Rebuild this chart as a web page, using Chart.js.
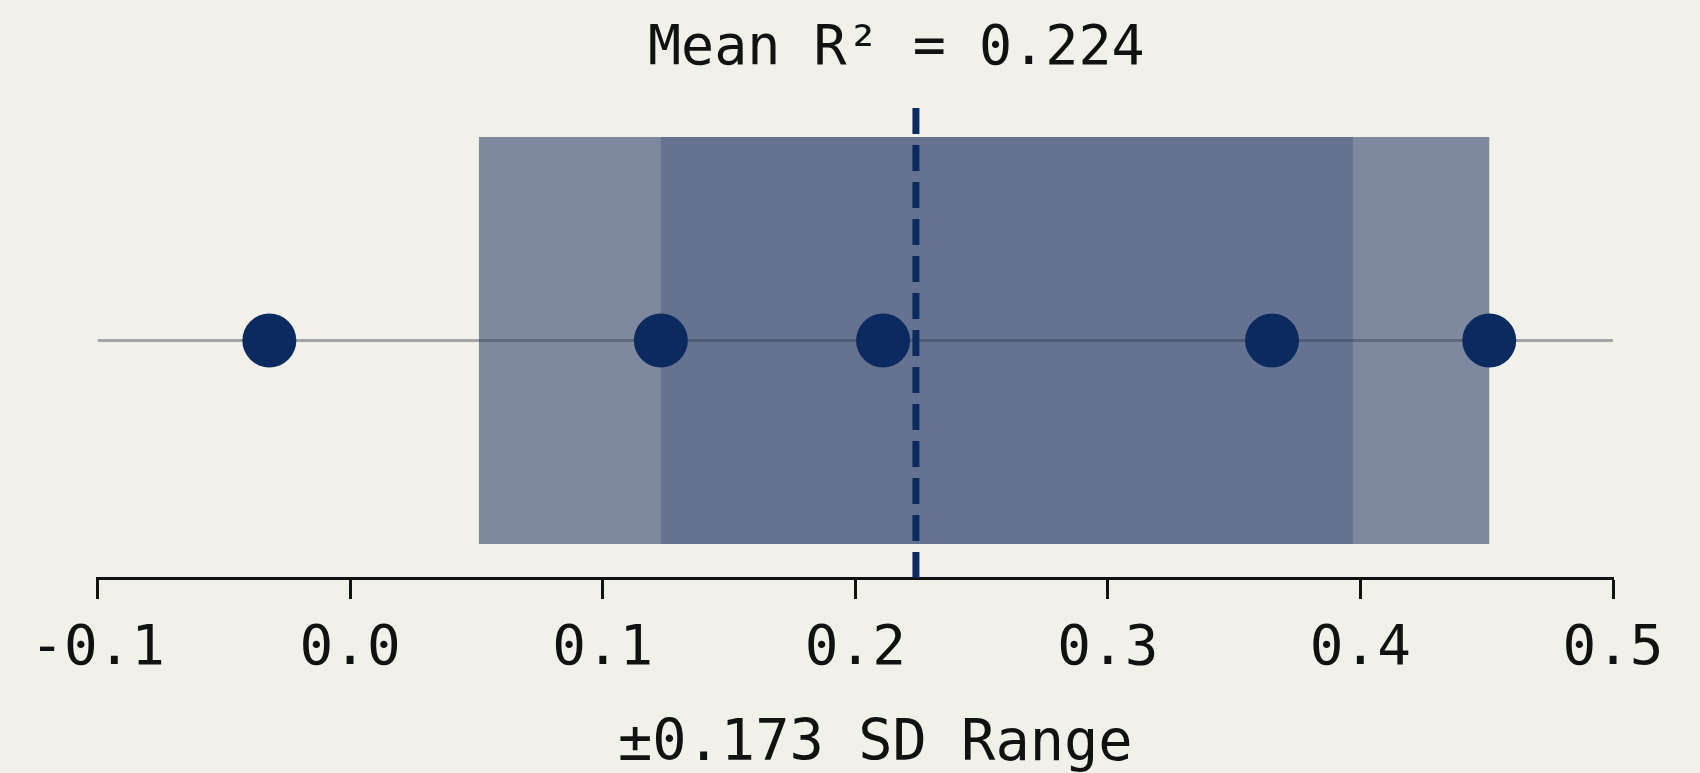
<!DOCTYPE html>
<html>
<head>
<meta charset="utf-8">
<script src="https://cdn.jsdelivr.net/npm/chart.js@4.4.0/dist/chart.umd.min.js"></script>
<style>
    body { margin: 0; background: #f1f0e9; }
    canvas { display: block; }
</style>
</head>
<body>
<canvas id="r2-chart" width="1700" height="773"></canvas>
<script>
// Values
const categories = ['R²'];
const pointValues = [-0.032, 0.123, 0.211, 0.365, 0.451];
const meanValue = 0.224;
const sdRange = [0.051, 0.397];      // mean ± SD
const spreadRange = [0.123, 0.451];  // second box
const xTicks = [-0.1, 0.0, 0.1, 0.2, 0.3, 0.4, 0.5];
const titleText = 'Mean R² = 0.224';
const xTitleText = '±0.173 SD Range';

const MONO = "'DejaVu Sans Mono', monospace";
const NAVY = '#0b2b60';
const BOX = 'rgba(93, 108, 140, 0.78)';

// The reference sets its titles a little right of the plot centre
const offsetTitles = {
    id: 'offsetTitles',
    afterLayout(chart) {
        if (chart.titleBlock) {
            chart.titleBlock.left += 41;
            chart.titleBlock.right += 41;
        }
    },
    afterDraw(chart) {
        const { ctx, chartArea } = chart;
        ctx.save();
        ctx.font = `57px ${MONO}`;
        ctx.fillStyle = '#111';
        ctx.textAlign = 'center';
        ctx.textBaseline = 'middle';
        ctx.fillText(xTitleText, (chartArea.left + chartArea.right) / 2 + 20, chartArea.bottom + 167);
        ctx.restore();
    }
};

const ctx = document.getElementById('r2-chart');

new Chart(ctx, {
    type: 'bar',
    data: {
        labels: categories,
        datasets: [
            {
                // mean line, on top
                type: 'line',
                indexAxis: 'x',
                yAxisID: 'y2',
                data: [{ x: meanValue, y: -1 }, { x: meanValue, y: 1 }],
                borderColor: NAVY,
                borderWidth: 7,
                borderDash: [26, 11],
                pointRadius: 0,
                order: 1
            },
            {
                type: 'line',
                indexAxis: 'x',
                yAxisID: 'y2',
                data: pointValues.map(v => ({ x: v, y: 0 })),
                showLine: false,
                pointRadius: 27,
                pointBackgroundColor: NAVY,
                pointBorderWidth: 0,
                order: 2
            },
            {
                // thin horizontal guide through the points
                type: 'line',
                indexAxis: 'x',
                yAxisID: 'y2',
                data: [{ x: xTicks[0], y: 0 }, { x: xTicks[xTicks.length - 1], y: 0 }],
                borderColor: 'rgba(55, 60, 75, 0.42)',
                borderWidth: 3,
                pointRadius: 0,
                order: 3
            },
            {
                label: 'SD',
                data: [sdRange],
                backgroundColor: BOX,
                borderWidth: 0,
                grouped: false,
                categoryPercentage: 1,
                barPercentage: 0.857,
                order: 4
            },
            {
                label: 'spread',
                data: [spreadRange],
                backgroundColor: BOX,
                borderWidth: 0,
                grouped: false,
                categoryPercentage: 1,
                barPercentage: 0.857,
                order: 5
            }
        ]
    },
    options: {
        indexAxis: 'y',
        responsive: false,
        animation: false,
        layout: {
            padding: { left: 97.6, right: 87, top: 0, bottom: 0 }
        },
        plugins: {
            legend: { display: false },
            tooltip: { enabled: false },
            title: {
                display: true,
                text: titleText,
                color: '#111',
                font: { family: MONO, size: 55, weight: 'normal', lineHeight: 1.2 },
                padding: { top: 16.5, bottom: 20.5 }
            }
        },
        scales: {
            x: {
                type: 'linear',
                min: xTicks[0],
                max: xTicks[xTicks.length - 1],
                afterBuildTicks: (scale) => {
                    scale.ticks = xTicks.map(v => ({ value: v }));
                },
                afterFit: (scale) => {
                    scale.height = 195;
                },
                grid: {
                    drawOnChartArea: false,
                    drawTicks: true,
                    tickLength: 21,
                    tickWidth: 3,
                    tickColor: '#111'
                },
                border: { display: true, color: '#111', width: 3 },
                ticks: {
                    color: '#111',
                    padding: 17,
                    maxRotation: 0,
                    font: { family: MONO, size: 56 },
                    callback: (v) => v.toFixed(1)
                }
            },
            y: {
                display: false,
                offset: true
            },
            y2: {
                type: 'linear',
                display: false,
                offset: false,
                min: -1,
                max: 1
            }
        }
    },
    plugins: [offsetTitles]
});
</script>
</body>
</html>
